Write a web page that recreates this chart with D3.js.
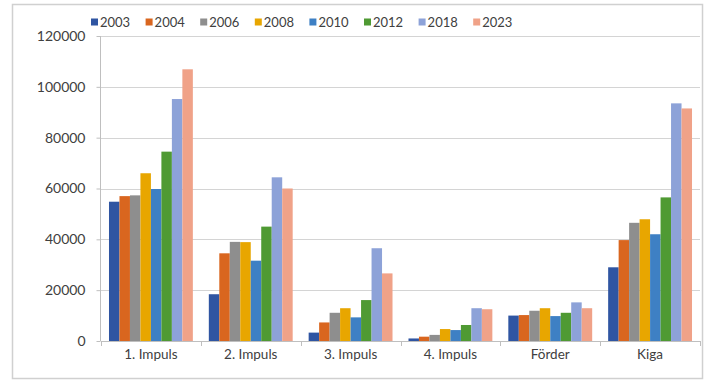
<!DOCTYPE html>
<html>
<head>
<meta charset="utf-8">
<script src="https://cdn.jsdelivr.net/npm/d3@7"></script>
<style>
  html, body { margin: 0; padding: 0; background: #fff; }
  svg { display: block; }
  text { font-family: Lato, "Open Sans", sans-serif; fill: #404040; }
</style>
</head>
<body>
<svg id="chart" width="710" height="383"></svg>
<script>
// Categories and year series
const categories = ["1. Impuls", "2. Impuls", "3. Impuls", "4. Impuls", "Förder", "Kiga"];
const years = ["2003", "2004", "2006", "2008", "2010", "2012", "2018", "2023"];
const colors = ["#2f55a2", "#d9661f", "#8e8e8e", "#e8a600", "#3e80c4", "#4f9a33", "#8da2d8", "#f0a288"];

// values per year, in category order
const v2003 = [54800, 18400, 3300, 1000, 10000, 29000];
const v2004 = [57000, 34500, 7300, 1700, 10200, 39700];
const v2006 = [57300, 39000, 11100, 2400, 11900, 46500];
const v2008 = [66000, 38900, 12900, 4700, 12900, 47900];
const v2010 = [59800, 31600, 9300, 4300, 9800, 42000];
const v2012 = [74500, 45000, 16100, 6300, 11100, 56500];
const v2018 = [95200, 64400, 36500, 12900, 15200, 93500];
const v2023 = [106900, 60000, 26600, 12500, 12900, 91500];
const seriesValues = [v2003, v2004, v2006, v2008, v2010, v2012, v2018, v2023];

const yTicks = [0, 20000, 40000, 60000, 80000, 100000, 120000];

const svg = d3.select("#chart");
const plotL = 101, plotR = 700, plotT = 36, plotB = 341;

// outer frame
svg.append("rect")
  .attr("x", 12.5).attr("y", 4.5)
  .attr("width", 690).attr("height", 374)
  .attr("fill", "#fff").attr("stroke", "#d0d0d0").attr("stroke-width", 1.5);

const x = d3.scaleBand().domain(categories).range([plotL, plotR]).paddingInner(0.16).paddingOuter(0.08);
const x1 = d3.scaleBand().domain(years).range([0, x.bandwidth()]);
const y = d3.scaleLinear().domain([0, 120000]).range([plotB, plotT]);

// gridlines
svg.append("g").selectAll("line").data(yTicks.filter(d => d > 0)).join("line")
  .attr("x1", plotL).attr("x2", plotR)
  .attr("y1", d => Math.round(y(d)) + 0.5).attr("y2", d => Math.round(y(d)) + 0.5)
  .attr("stroke", "#d4d4d4").attr("stroke-width", 1);

// bars
const groups = svg.append("g").selectAll("g").data(categories).join("g")
  .attr("transform", c => `translate(${x(c)},0)`);
groups.selectAll("rect")
  .data((c, ci) => years.map((yr, si) => ({ yr, si, v: seriesValues[si][ci] })))
  .join("rect")
  .attr("x", d => x1(d.yr))
  .attr("width", x1.bandwidth())
  .attr("y", d => y(d.v))
  .attr("height", d => y(0) - y(d.v))
  .attr("fill", d => colors[d.si]);

// y axis
const yAxis = svg.append("g").attr("transform", `translate(${plotL - 0.5},0)`)
  .call(d3.axisLeft(y).tickValues(yTicks).tickFormat(d3.format("d")).tickSize(4).tickPadding(11));
yAxis.select(".domain").attr("stroke", "#bfbfbf").attr("d", `M0,${plotT}V${plotB}`);
yAxis.selectAll(".tick line").attr("stroke", "#bfbfbf");
yAxis.selectAll("text").attr("font-size", 14).style("fill", "#404040");

// x axis with ticks at category boundaries
const boundaries = d3.range(categories.length + 1).map(i => plotL + i * (plotR - plotL) / categories.length);
svg.append("line").attr("x1", plotL).attr("x2", plotR)
  .attr("y1", plotB + 0.5).attr("y2", plotB + 0.5).attr("stroke", "#bfbfbf");
svg.append("g").selectAll("line").data(boundaries).join("line")
  .attr("x1", d => Math.round(d) + 0.5).attr("x2", d => Math.round(d) + 0.5)
  .attr("y1", plotB).attr("y2", plotB + 5).attr("stroke", "#bfbfbf");
svg.append("g").selectAll("text").data(categories).join("text")
  .attr("x", c => x(c) + x.bandwidth() / 2)
  .attr("y", plotB + 18)
  .attr("text-anchor", "middle")
  .attr("font-size", 13.5)
  .text(c => c);

// legend
const legend = svg.append("g").selectAll("g").data(years).join("g")
  .attr("transform", (d, i) => `translate(${91 + i * 54.6},22)`);
legend.append("rect").attr("x", 0).attr("y", -3.5).attr("width", 7).attr("height", 7)
  .attr("fill", (d, i) => colors[i]);
legend.append("text").attr("x", 9).attr("y", 4.5).attr("font-size", 13).text(d => d);
</script>
</body>
</html>
